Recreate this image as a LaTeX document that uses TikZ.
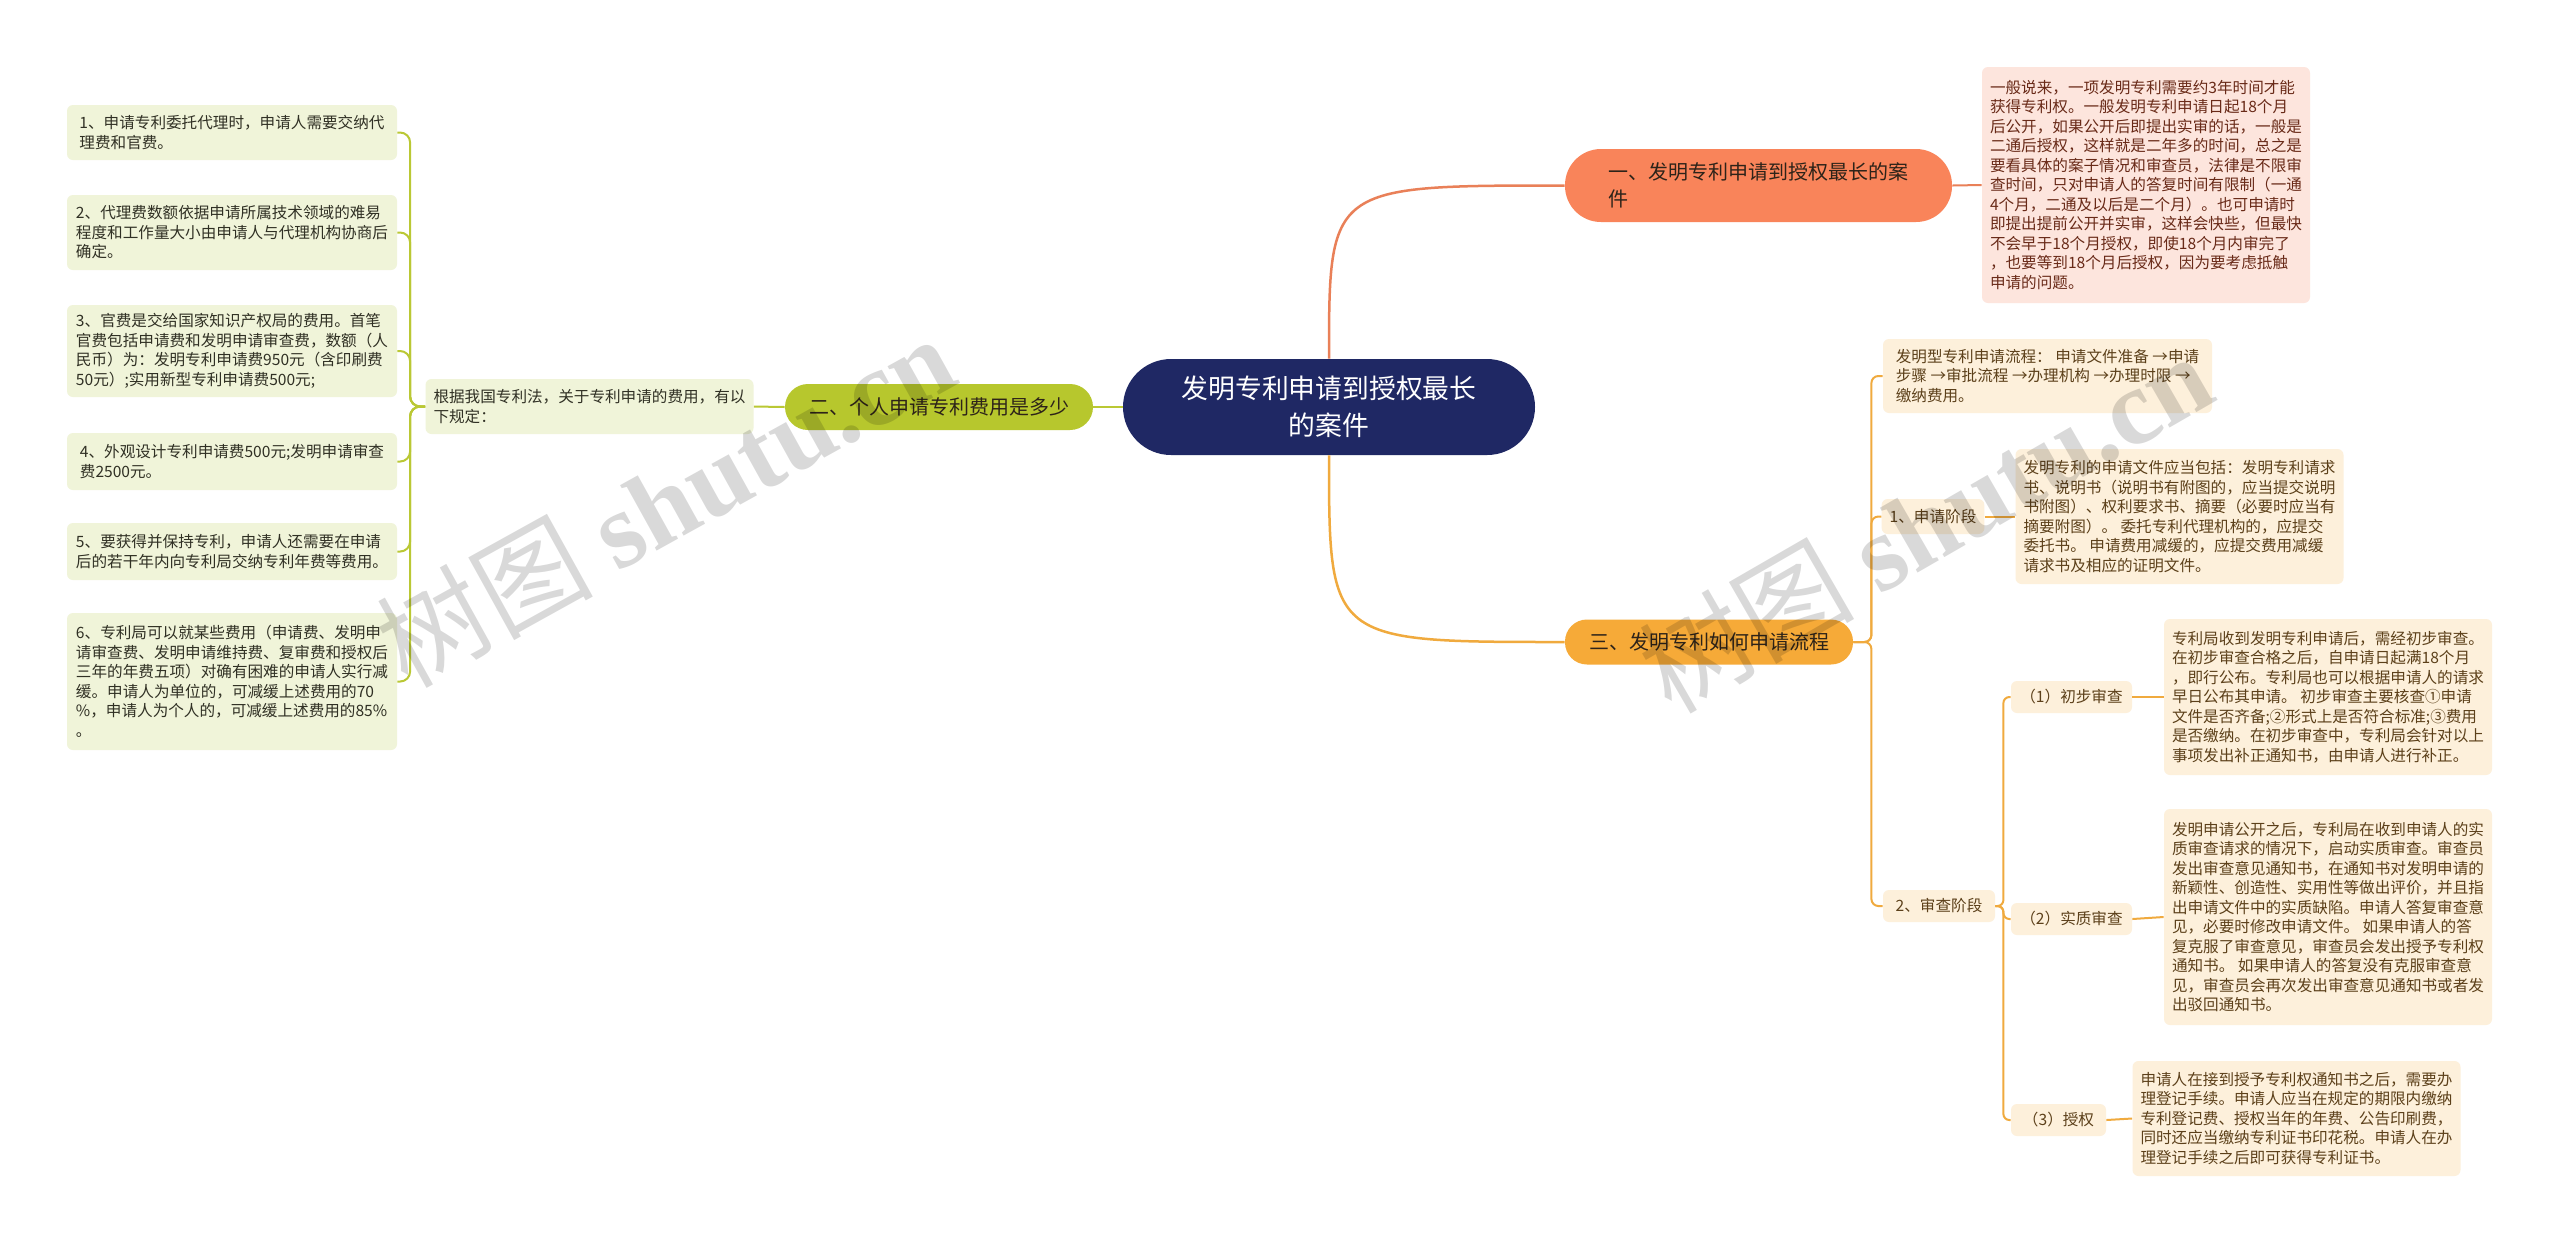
\documentclass[tikz,border=0pt]{standalone}
\usepackage{fontspec}
\setmainfont{Noto Sans CJK SC}
\newfontfamily\wmfont{Liberation Serif}
\definecolor{cNavy}{RGB}{31,40,100}
\definecolor{cOrange}{RGB}{249,132,90}
\definecolor{cOrangeLine}{RGB}{233,128,88}
\definecolor{cGreen}{RGB}{183,199,45}
\definecolor{cGreenLine}{RGB}{186,200,52}
\definecolor{cGreenFill}{RGB}{240,244,217}
\definecolor{cGold}{RGB}{246,170,56}
\definecolor{cGoldLine}{RGB}{240,170,62}
\definecolor{cCream}{RGB}{253,240,219}
\definecolor{cPink}{RGB}{253,229,221}
\definecolor{cPinkText}{RGB}{105,42,24}
\definecolor{cCreamText}{RGB}{92,64,26}
\definecolor{cGreenText}{RGB}{48,48,36}
\definecolor{cBranchText}{RGB}{45,35,25}
\begin{document}
\begin{tikzpicture}[x=0.5pt,y=-0.5pt]
\tikzset{
  px/.style 2 args={minimum width={#1*0.5pt}, minimum height={#2*0.5pt}},
  leafbox/.style={rectangle, rounded corners=3pt, align=left, inner xsep=4pt, inner ysep=2pt,
    font=\fontsize{7.8pt}{9.75pt}\selectfont},
  gleaf/.style={leafbox, fill=cGreenFill, text=cGreenText},
  cleaf/.style={leafbox, fill=cCream, text=cCreamText},
  pleaf/.style={leafbox, fill=cPink, text=cPinkText},
  branchbox/.style={rectangle, align=left, inner xsep=4pt, inner ysep=2pt, text=cBranchText,
    font=\fontsize{10pt}{13.4pt}\selectfont},
  centerbox/.style={rectangle, align=center, fill=cNavy, text=white, rounded corners=24pt,
    font=\fontsize{13.4pt}{18.5pt}\selectfont},
  gconn/.style={draw=cGreenLine, line width=1pt},
  oconn/.style={draw=cOrangeLine, line width=1.25pt},
  yconn/.style={draw=cGoldLine, line width=1pt},
  wmark/.style={text=black, text opacity=0.15, font=\fontsize{54pt}{58pt}\selectfont},
}
\fill[white] (0,0) rectangle (2560,1244);
\useasboundingbox (0,0) rectangle (2560,1244);

% ---- center and branches
\node[centerbox, px={412}{96}] (c) at (1329,407) {发明专利申请到授权最长\\的案件};
\node[branchbox, fill=cOrange, px={387}{73}, rounded corners=18pt] (b1) at (1758.5,185.5) {一、发明专利申请到授权最长的案\\件};
\node[branchbox, fill=cGreen, px={308}{46}, rounded corners=11.5pt] (b2) at (939,407) {二、个人申请专利费用是多少};
\node[branchbox, fill=cGold, px={288}{45}, rounded corners=11pt] (b3) at (1709,642) {三、发明专利如何申请流程};

% ---- branch 1 leaf
\node[pleaf, px={328}{236}] (p) at (2146,185) {一般说来，一项发明专利需要约3年时间才能\\获得专利权。一般发明专利申请日起18个月\\后公开，如果公开后即提出实审的话，一般是\\二通后授权，这样就是二年多的时间，总之是\\要看具体的案子情况和审查员，法律是不限审\\查时间，只对申请人的答复时间有限制（一通\\4个月，二通及以后是二个月）。也可申请时\\即提出提前公开并实审，这样会快些，但最快\\不会早于18个月授权，即使18个月内审完了\\，也要等到18个月后授权，因为要考虑抵触\\申请的问题。};

% ---- branch 2 leaves
\node[gleaf, px={327}{55}] (gen) at (589.5,406.5) {根据我国专利法，关于专利申请的费用，有以\\下规定：};
\node[gleaf, px={330}{55}] (l1) at (232,132.5) {1、申请专利委托代理时，申请人需要交纳代\\理费和官费。};
\node[gleaf, px={330}{75}] (l2) at (232,232.5) {2、代理费数额依据申请所属技术领域的难易\\程度和工作量大小由申请人与代理机构协商后\\确定。};
\node[gleaf, px={330}{92}] (l3) at (232,351) {3、官费是交给国家知识产权局的费用。首笔\\官费包括申请费和发明申请审查费，数额（人\\民币）为：发明专利申请费950元（含印刷费\\50元）;实用新型专利申请费500元;};
\node[gleaf, px={330}{57}] (l4) at (232,461.5) {4、外观设计专利申请费500元;发明申请审查\\费2500元。};
\node[gleaf, px={330}{57}] (l5) at (232,551.5) {5、要获得并保持专利，申请人还需要在申请\\后的若干年内向专利局交纳专利年费等费用。};
\node[gleaf, px={330}{137}] (l6) at (232,681.5) {6、专利局可以就某些费用（申请费、发明申\\请审查费、发明申请维持费、复审费和授权后\\三年的年费五项）对确有困难的申请人实行减\\缓。申请人为单位的，可减缓上述费用的70\\\%，申请人为个人的，可减缓上述费用的85\%\\。};

% ---- branch 3 leaves
\node[cleaf, px={329}{74}] (r0) at (2047.5,376) {发明型专利申请流程： 申请文件准备 →申请\\步骤 →审批流程 →办理机构 →办理时限 →\\缴纳费用。};
\node[cleaf, px={100}{35}] (r1) at (1933,516.5) {1、申请阶段};
\node[cleaf, px={327}{135}] (r1t) at (2179.5,516.5) {发明专利的申请文件应当包括：发明专利请求\\书、说明书（说明书有附图的，应当提交说明\\书附图）、权利要求书、摘要（必要时应当有\\摘要附图）。 委托专利代理机构的，应提交\\委托书。 申请费用减缓的，应提交费用减缓\\请求书及相应的证明文件。};
\node[cleaf, px={112}{32}] (r2) at (1939,906) {2、审查阶段};
\node[cleaf, px={121}{32}] (r21) at (2071.5,697) {（1）初步审查};
\node[cleaf, px={328}{156}] (r21t) at (2328,697) {专利局收到发明专利申请后，需经初步审查。\\在初步审查合格之后，自申请日起满18个月\\，即行公布。专利局也可以根据申请人的请求\\早日公布其申请。 初步审查主要核查①申请\\文件是否齐备;②形式上是否符合标准;③费用\\是否缴纳。在初步审查中，专利局会针对以上\\事项发出补正通知书，由申请人进行补正。};
\node[cleaf, px={121}{32}] (r22) at (2071.5,919) {（2）实质审查};
\node[cleaf, px={328}{216}] (r22t) at (2328,917) {发明申请公开之后，专利局在收到申请人的实\\质审查请求的情况下，启动实质审查。审查员\\发出审查意见通知书，在通知书对发明申请的\\新颖性、创造性、实用性等做出评价，并且指\\出申请文件中的实质缺陷。申请人答复审查意\\见，必要时修改申请文件。 如果申请人的答\\复克服了审查意见，审查员会发出授予专利权\\通知书。 如果申请人的答复没有克服审查意\\见，审查员会再次发出审查意见通知书或者发\\出驳回通知书。};
\node[cleaf, px={95}{32}] (r23) at (2058.5,1120) {（3）授权};
\node[cleaf, px={327}{115}] (r23t) at (2296.5,1118.5) {申请人在接到授予专利权通知书之后，需要办\\理登记手续。申请人应当在规定的期限内缴纳\\专利登记费、授权当年的年费、公告印刷费，\\同时还应当缴纳专利证书印花税。申请人在办\\理登记手续之后即可获得专利证书。};

% ---- connectors: center
\draw[oconn] (c.north) .. controls (c.north |- b1.west) .. (b1.west);
\draw[draw=cGoldLine, line width=1.25pt] (c.south) .. controls (c.south |- b3.west) .. (b3.west);
\draw[gconn, line width=1.25pt] (c.west) -- (b2.east);

% branch 1
\draw[oconn, line width=1pt] (b1.east) -- (p.west);

% branch 2
\draw[gconn] (b2.west) -- (gen.east);
\foreach \n in {l1,l2,l3,l4,l5,l6}{
  \draw[gconn, rounded corners=5pt] (gen.west) -- ++(-15,0) |- (\n.east);
}

% branch 3
\foreach \n in {r0,r1,r2}{
  \draw[yconn, rounded corners=3.5pt] (b3.east) -- ++(18,0) |- (\n.west);
}
\draw[yconn] (r1.east) -- (r1t.west);
\foreach \n in {r21,r22,r23}{
  \draw[yconn, rounded corners=3pt] (r2.east) -- ++(8,0) |- (\n.west);
}
\draw[yconn] (r21.east) -- (r21t.west);
\draw[yconn] (r22.east) -- (r22t.west);
\draw[yconn] (r23.east) -- (r23t.west);

% ---- watermarks
\node[wmark, rotate=29] (wm1) at (665,500) {树图 {\wmfont\bfseries shutu.cn}};
\node[wmark, rotate=30] (wm2) at (1925,522) {树图 {\wmfont\bfseries shutu.cn}};
\end{tikzpicture}
\end{document}
